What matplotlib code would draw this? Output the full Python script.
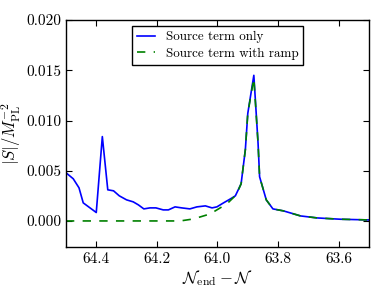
import numpy as np
import matplotlib
matplotlib.use('Agg')
from matplotlib import pyplot as plt

plt.rcParams.update({
    'font.family': 'serif',
    'font.serif': ['cmr10'],
    'mathtext.fontset': 'cm',
    'axes.unicode_minus': False,
    'axes.formatter.use_mathtext': True,
    'xtick.direction': 'in',
    'ytick.direction': 'in',
    'xtick.top': True,
    'ytick.right': True,
    'xtick.major.size': 4,
    'ytick.major.size': 4,
    'axes.linewidth': 1.0,
    'lines.scale_dashes': False,
})

# Source term only (blue)
n_source = [64.5, 64.476, 64.457, 64.443, 64.4, 64.38, 64.362, 64.343, 64.324,
            64.3, 64.278, 64.261, 64.243, 64.223, 64.203, 64.179, 64.162, 64.14,
            64.118, 64.091, 64.068, 64.04, 64.018, 64.002, 63.98, 63.957, 63.941,
            63.922, 63.908, 63.9, 63.88, 63.866, 63.861, 63.839, 63.817, 63.782,
            63.726, 63.671, 63.594, 63.5]
s_source = [0.0048, 0.0042, 0.0033, 0.0018, 0.00084, 0.0084, 0.0031, 0.0030, 0.0025,
            0.0021, 0.0019, 0.0016, 0.0012, 0.0013, 0.0013, 0.0011, 0.0011, 0.0014,
            0.0013, 0.0012, 0.0014, 0.0015, 0.0013, 0.0014, 0.0018, 0.0022, 0.0025,
            0.0037, 0.0071, 0.0107, 0.0145, 0.0077, 0.0044, 0.0021, 0.0012, 0.0010,
            0.0005, 0.0003, 0.00017, 0.0001]

# Source term with ramp (green)
n_ramp = [64.5, 64.3, 64.2, 64.123, 64.079, 64.057, 64.024, 63.969, 63.938,
          63.922, 63.908, 63.9, 63.88, 63.866, 63.861, 63.839, 63.817, 63.782,
          63.726, 63.671, 63.594, 63.5]
s_ramp = [0.0, 0.0, 0.0, 0.0, 0.0002, 0.0004, 0.0007, 0.0017, 0.0026,
          0.0037, 0.0071, 0.0107, 0.0142, 0.0077, 0.0044, 0.0021, 0.0012, 0.0010,
          0.0005, 0.0003, 0.00017, 0.0001]

fig = plt.figure(figsize=(3.88, 2.91), dpi=100)
ax = fig.add_axes([0.170, 0.151, 0.781, 0.780])

ax.plot(n_source, s_source, color='b', lw=1.2, label='Source term only')
ax.plot(n_ramp, s_ramp, color='g', lw=1.2, ls='--', dashes=(6, 6),
        label='Source term with ramp')

ax.set_xlim(64.5, 63.5)
ax.set_ylim(-0.0026, 0.02)
ax.set_xticks([64.4, 64.2, 64.0, 63.8, 63.6])
ax.set_xticklabels(['64.4', '64.2', '64.0', '63.8', '63.6'])
ax.set_yticks([0.0, 0.005, 0.01, 0.015, 0.02])
ax.set_yticklabels(['0.000', '0.005', '0.010', '0.015', '0.020'])
ax.tick_params(labelsize=11)

ax.set_xlabel(r'$\mathcal{N}_{\rm end}-\mathcal{N}$', fontsize=12, labelpad=2)
ax.set_ylabel(r'$|S|/M_{\rm PL}^{-2}$', fontsize=12, labelpad=2)

leg = ax.legend(loc='upper center', fontsize=9.4, fancybox=False, framealpha=1,
                edgecolor='black', borderaxespad=0.45, handlelength=1.4,
                labelspacing=0.32)
leg.get_frame().set_linewidth(1.0)

fig.savefig('out.png', dpi=100)
